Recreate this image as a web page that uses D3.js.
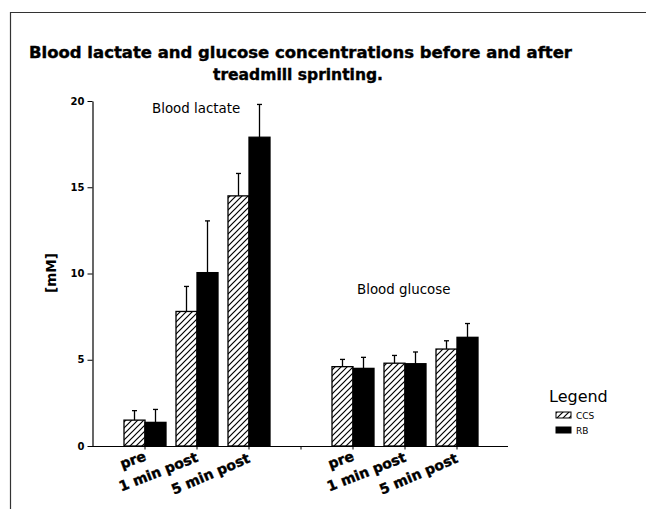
<!DOCTYPE html>
<html>
<head>
<meta charset="utf-8">
<script src="https://cdn.jsdelivr.net/npm/d3@7"></script>
<style>
  body { margin: 0; background: #fff; }
  svg { display: block; }
  .bold { font-family: "DejaVu Sans", sans-serif; font-weight: bold; }
  .heavy { stroke: #000; stroke-width: 0.4px; }
  .plain { font-family: "DejaVu Sans", sans-serif; }
</style>
</head>
<body>
<svg id="chart" width="646" height="509"></svg>
<script>
// categories
const timepoints = ["pre", "1 min post", "5 min post"];
const panels = ["Blood lactate", "Blood glucose"];
const groups = ["CCS", "RB"];
const yTicks = [0, 5, 10, 15, 20];
const titleLines = ["Blood lactate and glucose concentrations before and after", "treadmill sprinting."];

// means and SDs (mM)
const lactateCCS = [1.5, 7.8, 14.5];
const lactateCCSsd = [0.55, 1.45, 1.3];
const lactateRB = [1.37, 10.05, 17.9];
const lactateRBsd = [0.75, 3.0, 1.9];
const glucoseCCS = [4.6, 4.8, 5.62];
const glucoseCCSsd = [0.42, 0.45, 0.48];
const glucoseRB = [4.5, 4.77, 6.3];
const glucoseRBsd = [0.64, 0.68, 0.8];

const svg = d3.select("#chart");

// frame (top + left rule)
svg.append("path")
  .attr("d", "M10.5,509V12.5H646")
  .attr("fill", "none")
  .attr("stroke", "#333")
  .attr("stroke-width", 1.2);

// hatch pattern for CCS
const defs = svg.append("defs");
defs.append("pattern")
  .attr("id", "hatch")
  .attr("patternUnits", "userSpaceOnUse")
  .attr("width", 6)
  .attr("height", 6)
  .append("path")
  .attr("d", "M-1,1L1,-1M0,6L6,0M5,7L7,5")
  .attr("stroke", "#000")
  .attr("stroke-width", 1.2);

// title
svg.append("text")
  .attr("class", "bold heavy")
  .attr("font-size", 16)
  .attr("x", 29).attr("y", 58)
  .attr("textLength", 543)
  .attr("lengthAdjust", "spacingAndGlyphs")
  .text(titleLines[0]);
svg.append("text")
  .attr("class", "bold heavy")
  .attr("font-size", 16)
  .attr("x", 213).attr("y", 80)
  .attr("textLength", 170)
  .attr("lengthAdjust", "spacingAndGlyphs")
  .text(titleLines[1]);

// build band keys: lactate, gap, glucose
const keys = [];
panels.forEach((p, i) => {
  timepoints.forEach(t => keys.push(p + "|" + t));
  if (i === 0) keys.push("gap");
});

const x = d3.scaleBand()
  .domain(keys)
  .range([119, 483])
  .paddingInner(10 / 52)
  .paddingOuter(5 / 52);

const x1 = d3.scaleBand()
  .domain(groups)
  .range([0, x.bandwidth()]);

const y = d3.scaleLinear()
  .domain([0, 20])
  .range([446, 101]);

// rows for the bars
const rows = [];
timepoints.forEach((t, i) => {
  rows.push({ key: panels[0] + "|" + t, g: "CCS", v: lactateCCS[i], sd: lactateCCSsd[i] });
  rows.push({ key: panels[0] + "|" + t, g: "RB", v: lactateRB[i], sd: lactateRBsd[i] });
  rows.push({ key: panels[1] + "|" + t, g: "CCS", v: glucoseCCS[i], sd: glucoseCCSsd[i] });
  rows.push({ key: panels[1] + "|" + t, g: "RB", v: glucoseRB[i], sd: glucoseRBsd[i] });
});

// y axis
const yAxis = svg.append("g")
  .attr("transform", "translate(92.5,0)")
  .call(d3.axisLeft(y).tickValues(yTicks).tickSize(5).tickSizeOuter(0));
yAxis.select(".domain").attr("stroke-width", 1.2);
yAxis.selectAll("text")
  .attr("class", "bold")
  .attr("font-size", 10)
  .attr("x", -8);

svg.append("text")
  .attr("class", "bold")
  .attr("font-size", 13.5)
  .attr("text-anchor", "middle")
  .attr("transform", "translate(56,273) rotate(-90)")
  .text("[mM]");

// error bars (upper only)
const err = svg.append("g").attr("stroke", "#000").attr("stroke-width", 1.3);
rows.forEach(d => {
  const cx = x(d.key) + x1(d.g) + x1.bandwidth() / 2;
  err.append("line")
    .attr("x1", cx).attr("x2", cx)
    .attr("y1", y(d.v)).attr("y2", y(d.v + d.sd));
  err.append("line")
    .attr("x1", cx - 2.5).attr("x2", cx + 2.5)
    .attr("y1", y(d.v + d.sd)).attr("y2", y(d.v + d.sd));
});

// bars
svg.append("g")
  .selectAll("rect")
  .data(rows)
  .join("rect")
  .attr("x", d => x(d.key) + x1(d.g))
  .attr("y", d => y(d.v))
  .attr("width", x1.bandwidth())
  .attr("height", d => y(0) - y(d.v))
  .attr("fill", d => d.g === "CCS" ? "url(#hatch)" : "#000")
  .attr("stroke", "#000")
  .attr("stroke-width", 1.3);

// x axis
const xAxis = svg.append("g")
  .attr("transform", "translate(0,446.5)")
  .call(d3.axisBottom(x).tickSize(3).tickSizeOuter(0).tickFormat(""));
xAxis.select(".domain").attr("d", "M92,0H508").attr("stroke-width", 1.2);

// rotated category labels
keys.filter(k => k !== "gap").forEach(k => {
  const t = k.split("|")[1];
  const idx = timepoints.indexOf(t);
  const cx = x(k) + x.bandwidth() / 2;
  svg.append("text")
    .attr("class", "bold heavy")
    .attr("font-size", 14)
    .attr("text-anchor", "end")
    .attr("transform", `translate(${cx + 2},${460 + idx}) rotate(${-20 - idx * 1.5})`)
    .text(t);
});

// panel labels
svg.append("text")
  .attr("class", "plain")
  .attr("font-size", 13.4)
  .attr("x", x(panels[0] + "|" + timepoints[0]) + 28)
  .attr("y", 113)
  .text(panels[0]);
svg.append("text")
  .attr("class", "plain")
  .attr("font-size", 13.4)
  .attr("x", x(panels[1] + "|" + timepoints[0]) + 25)
  .attr("y", 294)
  .text(panels[1]);

// legend
const legend = svg.append("g").attr("transform", "translate(549,402)");
legend.append("text")
  .attr("class", "plain")
  .attr("font-size", 16)
  .text("Legend");
groups.forEach((g, i) => {
  legend.append("rect")
    .attr("x", 7).attr("y", 10 + i * 15)
    .attr("width", 15).attr("height", 6)
    .attr("fill", g === "CCS" ? "url(#hatch)" : "#000")
    .attr("stroke", "#000")
    .attr("stroke-width", 1);
  legend.append("text")
    .attr("class", "plain")
    .attr("font-size", 9)
    .attr("x", 27).attr("y", 17 + i * 15)
    .text(g);
});
</script>
</body>
</html>
